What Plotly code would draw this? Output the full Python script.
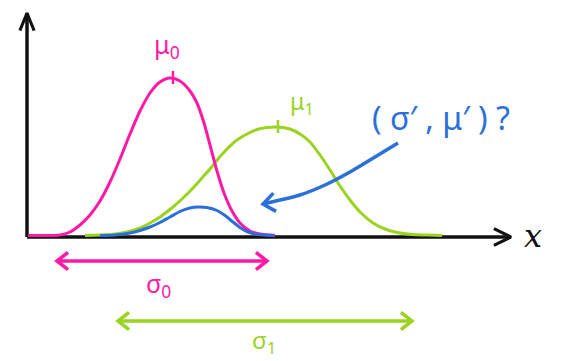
import numpy as np
import plotly.graph_objects as go

# ---- data (sketch units: x in px from left, y = height above the x axis) ----
pink_x = [28, 50, 60, 70, 80, 90, 100, 110, 120, 130, 140, 150, 160, 170, 180, 190, 197, 204, 210, 217, 224, 232, 240, 250, 260, 275]
pink_y = [1.5, 1.5, 2, 5, 12, 22, 36, 55, 78, 103, 126, 144, 155, 159, 156, 146, 134, 114, 92, 66, 44, 26, 14, 6, 3, 1.5]

green_x = [85, 100, 115, 127, 140, 150, 160, 173, 183, 193, 202, 210, 218, 227, 237, 247, 257, 267, 278, 290, 300, 310, 320, 330, 340, 350, 360, 373, 385, 397, 412, 427, 442]
green_y = [1.5, 2, 3, 5, 9, 14, 20, 30, 39, 49, 59, 68, 78, 88, 97, 103, 107.5, 109.5, 110, 108, 103, 95, 82, 67, 51, 37, 25, 14, 8, 4.5, 2.5, 2, 1.5]

blue_x = [100, 115, 130, 140, 150, 160, 170, 180, 190, 198, 207, 217, 225, 233, 240, 247, 255, 265, 274]
blue_y = [1.5, 2, 4, 6.5, 10, 14.5, 20, 25.5, 29, 30, 29.5, 26.5, 21.5, 15, 9.5, 5.5, 3, 2, 1.5]

blue_arrow_x = [398, 375, 350, 325, 300, 280, 263]
blue_arrow_y = [94, 80, 65, 52, 42, 37, 33]

mu_labels = ["μ<sub>0</sub>", "μ<sub>1</sub>"]
mu_x = [173, 278]
mu_height = [159, 110]

sigma_labels = ["σ<sub>0</sub>", "σ<sub>1</sub>"]
sigma_spans = [[57, 267], [118, 412]]
sigma_levels = [-24, -84]

question = "( σ′ , μ′ ) ?"
x_label = "<i>x</i>"

PINK = "#ff1aa6"
GREEN = "#9ad41f"
BLUE = "#2b6fdb"
BLACK = "#111111"

fig = go.Figure()

def line(xs, ys, color, width=3, shape="linear", smoothing=0.8):
    fig.add_trace(go.Scatter(x=xs, y=ys, mode="lines",
                             line=dict(color=color, width=width, shape=shape, smoothing=smoothing),
                             hoverinfo="skip", showlegend=False))

def vhead(tip, direction, color, length=14, angle=35, width=3):
    dx, dy = direction
    n = np.hypot(dx, dy)
    dx, dy = dx / n, dy / n
    pts = []
    for s in (1, -1):
        a = np.radians(angle) * s
        bx = -(dx * np.cos(a) - dy * np.sin(a))
        by = -(dx * np.sin(a) + dy * np.cos(a))
        pts.append((tip[0] + bx * length, tip[1] + by * length))
    line([pts[0][0], tip[0], pts[1][0]], [pts[0][1], tip[1], pts[1][1]], color, width)

# axes
line([27, 27], [0, 224], BLACK, 3.5)
vhead((27, 224), (0, 1), BLACK, length=19, angle=22, width=3)
line([27, 511], [0, 0], BLACK, 3.5)
vhead((511, 0), (1, 0), BLACK, length=19, angle=26, width=3)

# curves
line(green_x, green_y, GREEN, 3, "spline")
line(pink_x, pink_y, PINK, 3, "spline")
line(blue_x, blue_y, BLUE, 3, "spline")

# mean ticks
for mx, mh, col in zip(mu_x, mu_height, [PINK, GREEN]):
    line([mx, mx], [mh - 6, mh + 7], col, 2.5)

# blue curved arrow
line(blue_arrow_x, blue_arrow_y, BLUE, 3.5, "spline", 1.0)
vhead((blue_arrow_x[-1], blue_arrow_y[-1]), (-1, -0.15), BLUE, length=15, angle=38, width=3.5)

# sigma double arrows
for span, lvl, col in zip(sigma_spans, sigma_levels, [PINK, GREEN]):
    line(span, [lvl, lvl], col, 3.5)
    vhead((span[0], lvl), (-1, 0), col, length=14, angle=38, width=3.5)
    vhead((span[1], lvl), (1, 0), col, length=14, angle=38, width=3.5)

font_family = "Noto Sans"
annotations = [
    dict(x=167, y=192, text=mu_labels[0], font=dict(color=PINK, size=25, family=font_family)),
    dict(x=302, y=135, text=mu_labels[1], font=dict(color=GREEN, size=23, family=font_family)),
    dict(x=441, y=120, text=question, font=dict(color=BLUE, size=32, family=font_family)),
    dict(x=533, y=1, text=x_label, font=dict(color=BLACK, size=32, family="DejaVu Serif")),
    dict(x=158, y=-47, text=sigma_labels[0], font=dict(color=PINK, size=25, family=font_family)),
    dict(x=264, y=-104, text=sigma_labels[1], font=dict(color=GREEN, size=24, family=font_family)),
]
for a in annotations:
    a.update(showarrow=False, xref="x", yref="y", xanchor="center", yanchor="middle")

fig.update_layout(
    width=562, height=361, autosize=False,
    margin=dict(l=0, r=0, t=0, b=0, pad=0),
    paper_bgcolor="white", plot_bgcolor="white",
    xaxis=dict(range=[0, 562], visible=False, fixedrange=True),
    yaxis=dict(range=[-124, 237], visible=False, fixedrange=True),
    annotations=annotations,
    showlegend=False,
)

fig.write_html("out.html", config={"displayModeBar": False})
